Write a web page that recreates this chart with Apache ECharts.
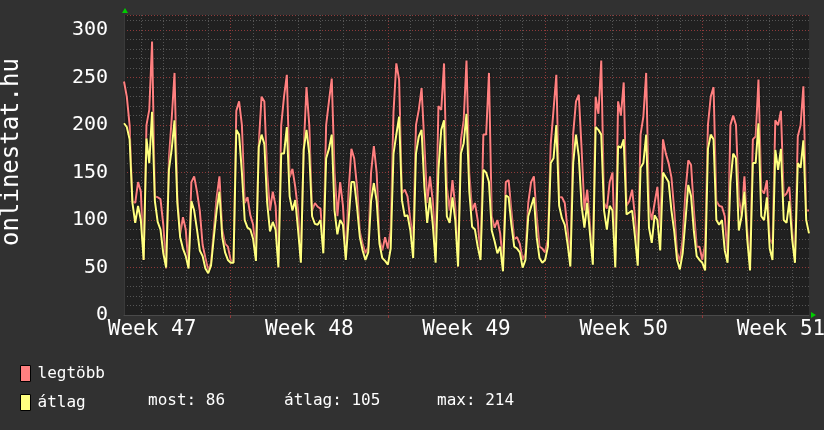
<!DOCTYPE html>
<html><head><meta charset="utf-8">
<script src="https://cdn.jsdelivr.net/npm/echarts@6/dist/echarts.min.js"></script>
<style>html,body{margin:0;padding:0;background:#313131;}#c{width:824px;height:430px;}</style>
</head><body><div id="c"></div>
<script>
const stepHours = 3;                 // one sample every 3 hours
const dayHours = 24;
const weekHours = 168;
const firstMidnightHour = 18;        // hours from the first sample to the first midnight
const firstWeekStartHour = 114;      // hours from the first sample to the first Monday 00:00
const weekLabels = ['Week 47', 'Week 48', 'Week 49', 'Week 50', 'Week 51'];
const weekLabelHours = [30, 198, 366, 534, 702];
const yTitle = 'onlinestat.hu';
const seriesNames = ['legtöbb', 'átlag'];
const statLabels = ['most', 'átlag', 'max'];
const statValues = [86, 105, 214];

const legtobb = [
 246,230,200,120,118,140,
 130,58,200,216,288,125,124,122,
 95,49,165,207,255,124,85,103,
 90,52,140,146,130,110,74,60,
 47,55,90,124,146,90,75,72,
 58,55,215,225,200,118,124,105,
 95,65,180,230,225,149,110,130,
 115,55,200,230,253,145,154,135,
 110,58,174,240,200,110,118,114,
 112,70,200,225,249,150,104,140,
 115,61,130,175,165,135,88,75,
 65,72,150,178,150,80,68,82,
 70,90,214,265,248,128,132,125,
 100,80,200,216,239,180,118,146,
 120,68,220,216,265,135,110,142,
 114,61,184,205,268,150,110,118,
 100,61,190,190,255,104,92,100,
 86,55,140,142,110,80,82,75,
 58,65,118,140,146,104,72,70,
 66,80,180,216,253,124,124,118,
 90,60,191,225,232,175,110,132,
 95,60,230,212,268,118,112,140,
 150,58,225,210,245,115,120,132,
 104,62,190,209,255,115,100,118,
 135,92,185,170,160,145,110,66,
 56,80,130,163,158,110,72,72,
 58,75,200,230,240,120,115,114,
 104,60,200,210,200,124,104,146,
 90,55,185,188,248,132,128,142,
 80,75,205,200,215,125,128,135,
 90,60,188,200,241,110,110
];
const atlag = [
 202,198,185,118,97,115,
 100,58,186,160,214,120,98,90,
 65,50,153,175,205,118,82,70,
 62,49,120,110,90,68,62,49,
 44,52,82,110,130,82,66,58,
 55,55,195,190,150,100,92,90,
 80,57,177,190,180,118,88,98,
 90,50,170,170,198,125,110,121,
 90,55,174,195,170,104,96,95,
 100,65,165,175,190,110,85,100,
 95,58,100,140,140,114,82,68,
 58,66,120,139,120,75,60,57,
 53,70,170,190,209,121,104,105,
 89,60,170,188,195,135,97,124,
 95,55,153,195,205,104,97,124,
 100,51,170,181,212,130,93,90,
 72,58,153,150,140,89,78,65,
 72,46,126,124,95,72,70,66,
 50,58,104,114,124,82,60,55,
 58,72,160,165,200,115,102,95,
 75,51,160,190,167,115,92,118,
 85,53,198,195,190,110,90,115,
 110,50,178,176,185,106,108,110,
 83,52,155,160,190,92,76,105,
 100,68,150,145,140,110,88,58,
 48,65,100,137,125,88,62,58,
 55,47,175,190,185,100,95,100,
 68,55,140,170,165,89,104,130,
 80,47,160,160,202,104,100,124,
 70,58,174,153,175,100,97,120,
 80,55,160,155,184,100,86
];

const hours = legtobb.map((_, i) => i * stepHours);
const isMidnight = (i) => (hours[i] - firstMidnightHour) % dayHours === 0;
const isWeekStart = (i) => hours[i] >= firstWeekStartHour && (hours[i] - firstWeekStartHour) % weekHours === 0;
const isWeekLabel = (i) => weekLabelHours.indexOf(hours[i]) >= 0;

const mono = 'DejaVu Sans Mono';
const gridDash = [1, 2];
const minorColor = '#555555';
const majorColor = '#8e3a3a';
const legendFont = '16px "DejaVu Sans Mono"';

const chart = echarts.init(document.getElementById('c'), null, {renderer: 'canvas'});
chart.setOption({
  animation: false,
  backgroundColor: '#313131',
  grid: {left: 124, right: 15, top: 15, bottom: 115, show: true, backgroundColor: '#202020', borderWidth: 0,
         containLabel: false, outerBoundsMode: 'none'},
  legend: {
    orient: 'vertical', left: 20, top: 365, padding: 0,
    itemWidth: 10, itemHeight: 16, itemGap: 12, icon: 'rect',
    itemStyle: {borderColor: '#000', borderWidth: 1},
    textStyle: {color: '#fff', fontFamily: mono, fontSize: 16, lineHeight: 16, padding: [0, 0, 0, 2]},
    data: seriesNames
  },
  xAxis: [
    {
      type: 'category', data: hours, boundaryGap: false, position: 'bottom',
      axisLine: {show: true, lineStyle: {color: '#4a4a4a'}},
      axisTick: {show: false},
      axisLabel: {
        interval: (i) => isWeekLabel(i), margin: 4, color: '#fff', fontFamily: mono, fontSize: 21,
        formatter: (v, i) => weekLabels[weekLabelHours.indexOf(hours[i])]
      },
      splitLine: {show: true, interval: (i) => isMidnight(i), lineStyle: {color: minorColor, type: gridDash, width: 1}}
    },
    {
      type: 'category', data: hours, boundaryGap: false, position: 'bottom',
      axisLine: {show: false},
      axisTick: {show: true, interval: (i) => isWeekStart(i), length: 3, lineStyle: {color: majorColor}},
      axisLabel: {show: false},
      splitLine: {show: true, interval: (i) => isWeekStart(i), lineStyle: {color: majorColor, type: gridDash, width: 1}}
    }
  ],
  yAxis: [
    {
      type: 'value', min: 0, max: 316, interval: 10, position: 'left',
      axisLine: {show: false}, axisTick: {show: false}, axisLabel: {show: false},
      splitLine: {show: true, lineStyle: {color: minorColor, type: gridDash, width: 1}}
    },
    {
      type: 'value', min: 0, max: 316, interval: 50, position: 'left',
      name: yTitle, nameLocation: 'middle', nameRotate: 90, nameGap: 100,
      nameTextStyle: {color: '#fff', fontFamily: mono, fontSize: 24, padding: [0, 0, 0, 26]},
      axisLine: {show: true, lineStyle: {color: '#3a3a3a'}},
      axisTick: {show: false},
      axisLabel: {color: '#fff', fontFamily: mono, fontSize: 20, margin: 16, showMaxLabel: false},
      splitLine: {show: true, lineStyle: {color: majorColor, type: gridDash, width: 1}}
    }
  ],
  series: [
    {name: seriesNames[0], type: 'line', xAxisIndex: 0, yAxisIndex: 1, data: legtobb, symbol: 'none',
     itemStyle: {color: '#FF8080'},
     lineStyle: {color: '#FF8080', width: 2, shadowColor: 'rgba(0,0,0,0.85)', shadowBlur: 2}, z: 3},
    {name: seriesNames[1], type: 'line', xAxisIndex: 0, yAxisIndex: 1, data: atlag, symbol: 'none',
     itemStyle: {color: '#FFFF80'},
     lineStyle: {color: '#FFFF80', width: 2, shadowColor: 'rgba(0,0,0,0.85)', shadowBlur: 2}, z: 4}
  ],
  graphic: [
    {type: 'polygon', shape: {points: [[122, 13], [128, 13], [125, 8]]}, style: {fill: '#00cc00'}},
    {type: 'polygon', shape: {points: [[811, 312], [811, 318], [816, 315]]}, style: {fill: '#00cc00'}},
    {type: 'text', left: 148, top: 393, style: {text: statLabels[0] + ': ' + statValues[0], fill: '#fff', font: legendFont}},
    {type: 'text', left: 284, top: 393, style: {text: statLabels[1] + ': ' + statValues[1], fill: '#fff', font: legendFont}},
    {type: 'text', left: 437, top: 393, style: {text: statLabels[2] + ': ' + statValues[2], fill: '#fff', font: legendFont}}
  ]
});
</script>
</body></html>
